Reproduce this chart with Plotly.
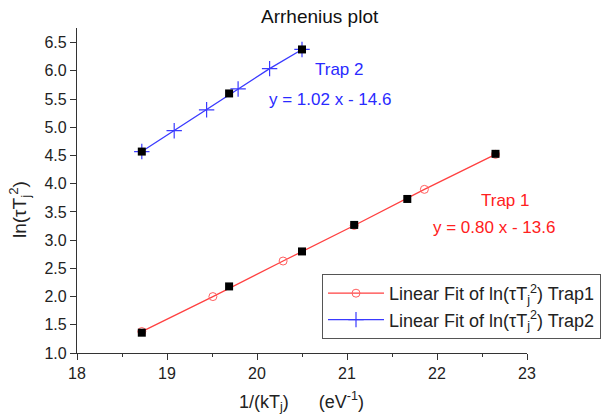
import plotly.graph_objects as go

# Measured data (black squares)
trap1_x = [18.72, 19.69, 20.50, 21.08, 21.67, 22.65]
trap1_y = [1.36, 2.18, 2.80, 3.27, 3.73, 4.53]
trap2_x = [18.72, 19.69, 20.50]
trap2_y = [4.57, 5.60, 6.38]

# Linear fit curves (points where fit markers are drawn)
fit1_x = [18.72, 19.51, 20.29, 21.08, 21.86, 22.65]
fit1_y = [1.38, 2.00, 2.63, 3.26, 3.90, 4.52]
fit2_x = [18.72, 19.08, 19.44, 19.79, 20.14, 20.50]
fit2_y = [4.57, 4.94, 5.31, 5.68, 6.04, 6.38]

FONT = "Arial, Liberation Sans, sans-serif"

# plot area in pixels
L, R, T, B = 77, 527, 28, 353
PW, PH = R - L, B - T

fig = go.Figure()
fig.add_trace(go.Scatter(
    x=fit1_x, y=fit1_y, mode="lines+markers",
    name="Linear Fit of ln(τT<sub>j</sub><sup>2</sup>) Trap1",
    line=dict(color="#ff4040", width=1.3),
    marker=dict(symbol="circle-open", size=8, color="#ff6060", line=dict(width=1)),
))
fig.add_trace(go.Scatter(
    x=fit2_x, y=fit2_y, mode="lines+markers",
    name="Linear Fit of ln(τT<sub>j</sub><sup>2</sup>) Trap2",
    line=dict(color="#3a3aff", width=1.3),
    marker=dict(symbol="cross-thin-open", size=11, color="#3a3aff", line=dict(width=1.2, color="#3a3aff")),
))
fig.add_trace(go.Scatter(
    x=trap1_x, y=trap1_y, mode="markers", showlegend=False,
    marker=dict(symbol="square", size=8, color="black"),
))
fig.add_trace(go.Scatter(
    x=trap2_x, y=trap2_y, mode="markers", showlegend=False,
    marker=dict(symbol="square", size=8, color="black"),
))

annots = [
    dict(text="Trap 2", x=20.92, y=6.02, color="#2a2aff"),
    dict(text="y = 1.02 x - 14.6", x=20.81, y=5.49, color="#2a2aff"),
    dict(text="Trap 1", x=22.76, y=3.71, color="#ff2020"),
    dict(text="y = 0.80 x - 13.6", x=22.63, y=3.23, color="#ff2020"),
]
for a in annots:
    fig.add_annotation(x=a["x"], y=a["y"], xref="x", yref="y", text=a["text"],
                       showarrow=False, font=dict(family=FONT, size=17, color=a["color"]))

# title
fig.add_annotation(x=(320 - L) / PW, y=1.0 + (T - 17) / PH, xref="paper", yref="paper",
                   xanchor="center", yanchor="middle",
                   text="Arrhenius plot", showarrow=False,
                   font=dict(family=FONT, size=19, color="#111"))
# x-axis title
fig.add_annotation(x=(301 - L) / PW, y=-(401 - B) / PH, xref="paper", yref="paper",
                   xanchor="center", yanchor="middle",
                   text="1/(kT<sub>j</sub>)      (eV<sup>-1</sup>)", showarrow=False,
                   font=dict(family=FONT, size=18, color="#222"))
# y-axis title
fig.add_annotation(x=-(L - 19) / PW, y=(B - 210) / PH, xref="paper", yref="paper",
                   xanchor="center", yanchor="middle",
                   text="ln(τT<sub>j</sub><sup>2</sup>)", showarrow=False, textangle=-90,
                   font=dict(family=FONT, size=19, color="#222"))

fig.update_layout(
    width=611, height=419,
    margin=dict(l=L, r=611 - R, t=T, b=419 - B, autoexpand=False),
    paper_bgcolor="white", plot_bgcolor="white",
    font=dict(family=FONT, size=16, color="#222"),
    legend=dict(
        x=(322 - L) / PW, y=(B - 274) / PH, xanchor="left", yanchor="top",
        bordercolor="#555", borderwidth=1, bgcolor="white",
        font=dict(family=FONT, size=18, color="#222"),
        tracegroupgap=0, itemwidth=56,
    ),
    xaxis=dict(
        range=[18, 23], dtick=1, tick0=18, showgrid=False, zeroline=False,
        showline=True, linecolor="#333", linewidth=1.3,
        ticks="outside", ticklen=6, tickcolor="#333", tickwidth=1.3,
        minor=dict(dtick=0.5, ticks="outside", ticklen=3, tickcolor="#333", showgrid=False),
        tickfont=dict(size=16, color="#222"),
    ),
    yaxis=dict(
        range=[1.0, 6.76], dtick=0.5, tick0=1.0, tickformat=".1f",
        showgrid=False, zeroline=False,
        showline=True, linecolor="#333", linewidth=1.3,
        ticks="outside", ticklen=6, tickcolor="#333", tickwidth=1.3,
        tickfont=dict(size=16, color="#222"),
    ),
)

fig.write_html("out.html")
